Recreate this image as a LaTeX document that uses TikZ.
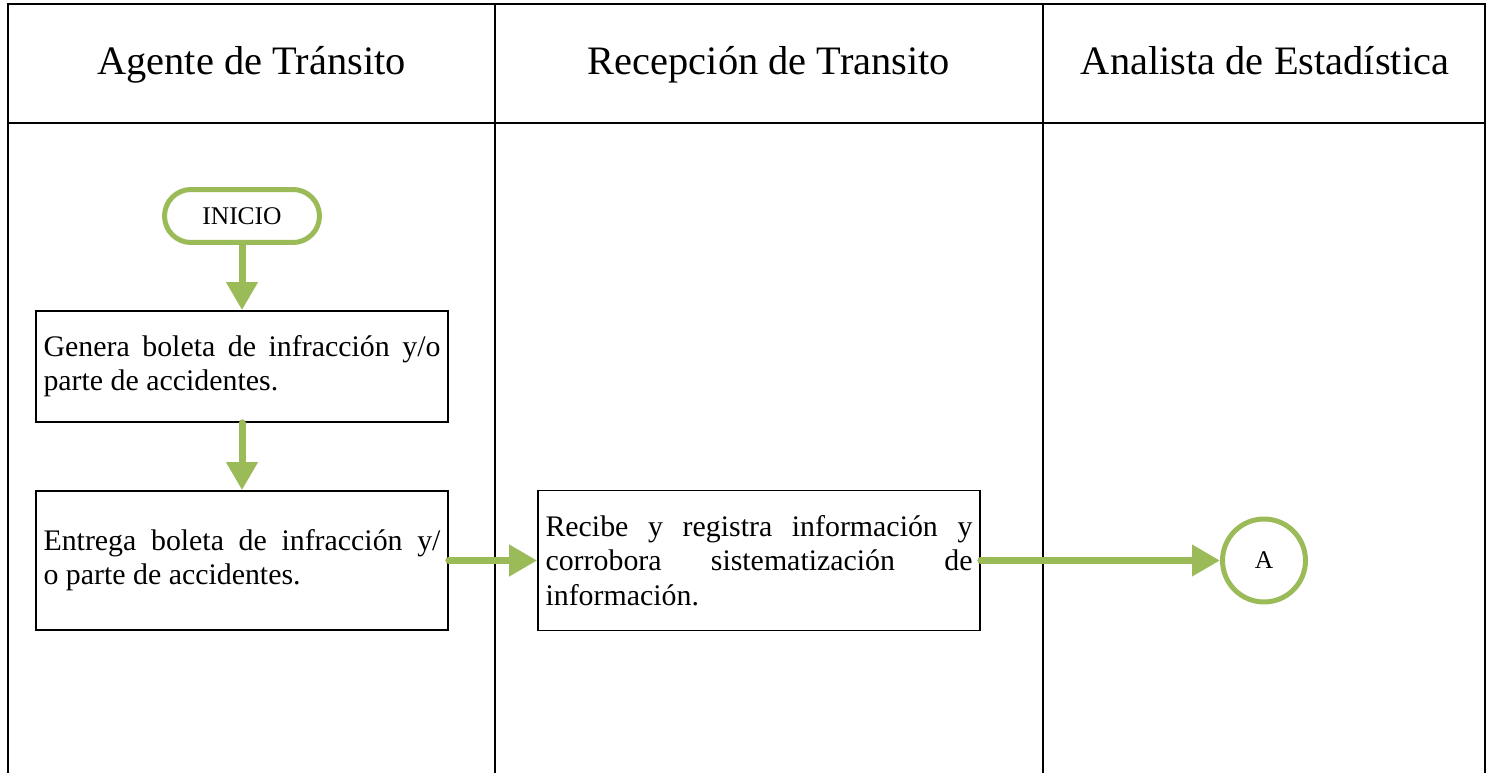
\documentclass[tikz,border=0pt]{standalone}
\usepackage{fontspec}
\setmainfont{Liberation Serif}
\usetikzlibrary{arrows.meta}
\definecolor{flowgreen}{RGB}{155,187,89}

\begin{document}
\begin{tikzpicture}[x=0.02cm,y=-0.02cm,
  lane/.style={line width=1.1pt},
  header/.style={anchor=base,font=\fontsize{23}{27}\selectfont},
  task/.style={draw,line width=1pt,align=justify,inner xsep=0.15cm,font=\fontsize{17}{19.5}\selectfont},
  terminal/.style={draw=flowgreen,line width=0.1cm,rounded corners=0.53cm,minimum width=3.1cm,minimum height=1.06cm,font=\fontsize{14.5}{16}\selectfont},
  connector/.style={circle,draw=flowgreen,line width=0.1cm,minimum size=1.66cm,font=\fontsize{14.5}{16}\selectfont},
  flow/.style={color=flowgreen,line width=0.14cm,line cap=round,-{Triangle[length=0.56cm,width=0.6cm]}}]
  \useasboundingbox (0,0) rectangle (1493,773);
  % swimlanes
  \draw[lane] (8,773) -- (8,4) -- (1485,4) -- (1485,773);
  \draw[lane] (8,123) -- (1485,123);
  \draw[lane] (495,4) -- (495,773);
  \draw[lane] (1043,4) -- (1043,773);

  \node[header] (hAgente) at (251.5,75) {Agente de Tránsito};
  \node[header] (hRecepcion) at (769,75) {Recepción de Transito};
  \node[header] (hAnalista) at (1265,75) {Analista de Estadística};

  % steps
  \node[terminal] (inicio) at (242,216) {INICIO};
  \node[task,text width=7.94cm,minimum height=2.22cm] (genera) at (242,366.5)
    {Genera boleta de infracción y/o\linebreak parte de accidentes.};
  \node[task,text width=7.94cm,minimum height=2.78cm] (entrega) at (242,560.5)
    {Entrega boleta de infracción y/\linebreak o parte de accidentes.};
  \node[task,text width=8.54cm,minimum height=2.8cm] (recibe) at (759,560.5)
    {Recibe y registra información y\linebreak corrobora sistematización de\linebreak información.};
  \node[connector] (conA) at (1264,560.5) {A};

  \path[flow]
    (inicio) edge (genera)
    (genera) edge (entrega)
    (entrega) edge (recibe)
    (recibe) edge (conA);
\end{tikzpicture}
\end{document}
